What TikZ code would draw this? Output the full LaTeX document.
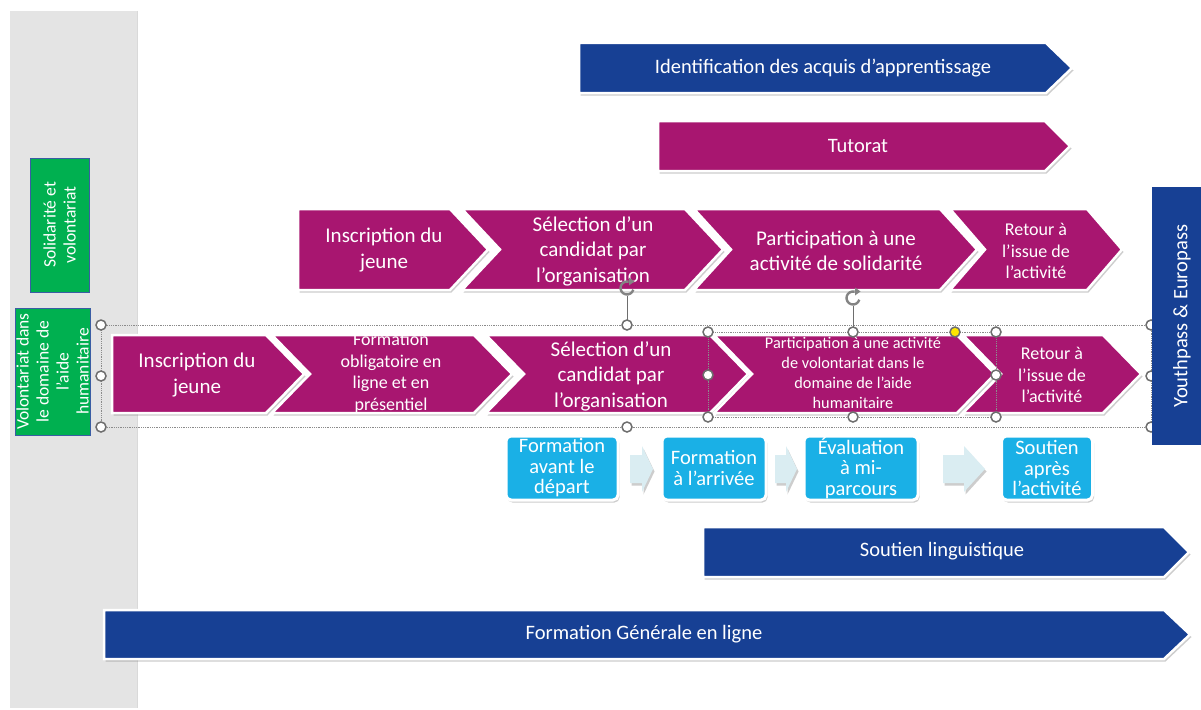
\documentclass[tikz,border=0pt]{standalone}
\usepackage{fontspec}
\setmainfont{Carlito}
\usetikzlibrary{shadows}
\definecolor{berry}{RGB}{168,22,112}
\definecolor{navy}{RGB}{23,64,148}
\definecolor{leaf}{RGB}{0,176,80}
\definecolor{sky}{RGB}{26,176,230}
\definecolor{pale}{RGB}{218,237,242}
\definecolor{panel}{RGB}{228,228,228}
\definecolor{hgray}{RGB}{110,110,110}
\definecolor{hyellow}{RGB}{255,230,0}
\tikzset{
  shad/.style={drop shadow={shadow xshift=1.5pt,shadow yshift=-2.5pt,opacity=.28,fill=black!70}},
  shapeln/.style={draw=white,line width=2.5pt,line join=miter,shad},
  wt/.style={text=white,align=center,inner sep=0pt},
  chevtxt/.style={wt,font=\fontsize{21}{25.5}\selectfont},
  midtxt/.style={wt,font=\fontsize{18}{21.5}\selectfont},
  tinytxt/.style={wt,font=\fontsize{16.3}{20}\selectfont},
  bartxt/.style={wt,font=\fontsize{20.5}{24}\selectfont},
  boxtxt/.style={wt,font=\fontsize{20.5}{20.5}\selectfont},
  greentxt/.style={wt,font=\fontsize{17.5}{20}\selectfont},
  skybox/.style={fill=sky,draw=white,line width=3pt,rounded corners=5pt,shad,inner sep=0pt},
  greenbox/.style={fill=leaf,draw=navy!85,line width=1pt,inner sep=0pt},
  handle/.style={circle,fill=white,draw=hgray,line width=1.5pt,minimum size=10pt,inner sep=0pt},
  selbox/.style={draw=hgray!80,densely dotted,line width=0.8pt},
  rotline/.style={draw=hgray,line width=1pt},
}
% pentagon arrow: fill, left, base, top, bottom, depth
\newcommand\mkpent[6]{%
  \path[fill=#1,shapeln] (#2,#4) -- (#3,#4) -- ({#3+#6},{(#4+#5)/2}) -- (#3,#5) -- (#2,#5) -- cycle;}
% chevron with notch
\newcommand\mkchev[6]{%
  \path[fill=#1,shapeln] (#2,#4) -- (#3,#4) -- ({#3+#6},{(#4+#5)/2}) -- (#3,#5) -- (#2,#5) -- ({#2+#6},{(#4+#5)/2}) -- cycle;}
% rotation icon (circle arrow)
\newcommand\mkrot[2]{%
  \draw[hgray!85,line width=2.4pt] (#1,#2) ++(75:6.5pt) arc[start angle=75,end angle=345,radius=6.5pt];
  \fill[hgray!85] (#1,#2) ++(2pt,10.5pt) -- ++(0,-8pt) -- ++(5.5pt,4pt) -- cycle;}
\begin{document}
\begin{tikzpicture}[x=1pt,y=-1pt]
\useasboundingbox (0,0) rectangle (1201,709);
\clip (0,0) rectangle (1201,709);
\fill[white] (0,0) rectangle (1201,709);
% side panel
\fill[panel] (10,11) rectangle (137,708);
\draw[black!15,line width=1pt] (137,11) -- (137,708);

% top bars
\mkpent{navy}{579}{1046}{43}{93}{26}
\node[bartxt] (ident) at (823,68) {Identification des acquis d’apprentissage};
\mkpent{berry}{658}{1045}{121}{171}{25}
\node[bartxt] (tut) at (858,146) {Tutorat};

% row 1 : solidarity
\mkpent{berry}{298}{450}{209}{290}{38}
\mkchev{berry}{462}{685}{209}{290}{38}
\mkchev{berry}{694}{940}{209}{290}{37}
\mkchev{berry}{950}{1087}{209}{290}{35}
\node[chevtxt] (s1) at (384,250) {Inscription du\\jeune};
\node[chevtxt] (s2) at (593,251) {Sélection d’un\\candidat par\\l’organisation};
\node[chevtxt] (s3) at (836,251) {Participation à une\\activité de solidarité};
\node[midtxt] (s4) at (1036,251) {Retour à\\l’issue de\\l’activité};

% row 2 : humanitarian aid
\mkpent{berry}{112}{266}{335}{413}{38}
\mkchev{berry}{272}{474}{335}{413}{38}
\mkchev{berry}{486}{710}{335}{413}{38}
\mkchev{berry}{714}{957}{335}{413}{38}
\mkchev{berry}{963}{1103}{335}{413}{38}
\node[chevtxt] (h1) at (197,375) {Inscription du\\jeune};
\node[midtxt] (h2) at (391,373) {Formation\\obligatoire en\\ligne et en\\présentiel};
\node[chevtxt] (h3) at (611,376) {Sélection d’un\\candidat par\\l’organisation};
\node[tinytxt] (h4) at (853,373) {Participation à une activité\\de volontariat dans le\\domaine de l’aide\\humanitaire};
\node[midtxt] (h5) at (1052,375) {Retour à\\l’issue de\\l’activité};

% selection frames and handles
\draw[selbox] (101,325) rectangle (1151,427);
\draw[selbox] (708,332) rectangle (996,417);
\draw[rotline] (627,325) -- (627,296);
\draw[rotline] (853,332) -- (853,306);
\mkrot{627}{288}
\mkrot{853}{298}
\foreach \p in {(101,325),(101,376),(101,427),(627,325),(627,427),(1151,325),(1151,376),(1151,427),
  (708,332),(853,332),(996,332),(708,375),(996,375),(708,417),(853,417),(996,417)}
  \node[handle] at \p {};
\node[handle,fill=hyellow] (yh) at (955,332) {};

% training boxes
\node[skybox,minimum width=112pt,minimum height=64pt] (b1) at (562,468) {};
\node[skybox,minimum width=104pt,minimum height=64pt] (b2) at (714,468) {};
\node[skybox,minimum width=114pt,minimum height=64pt] (b3) at (861,468) {};
\node[skybox,minimum width=91pt,minimum height=64pt] (b4) at (1047,468) {};
\node[boxtxt] (t1) at (b1) {Formation\\avant le\\départ};
\node[boxtxt] (t2) at (b2) {Formation\\à l’arrivée};
\node[boxtxt] (t3) at (b3) {Évaluation\\à mi-\\parcours};
\node[boxtxt] (t4) at (b4) {Soutien\\après\\l’activité};
% small block arrows
\path[fill=pale,shad] (630,455) -- (642,455) -- (642,446) -- (653,469) -- (642,492) -- (642,483) -- (630,483) -- cycle;
\path[fill=pale,shad] (775,455) -- (786,455) -- (786,446) -- (797,469) -- (786,492) -- (786,483) -- (775,483) -- cycle;
\path[fill=pale,shad] (943,455) -- (964,455) -- (964,446) -- (985,469) -- (964,492) -- (964,483) -- (943,483) -- cycle;

% bottom bars
\mkpent{navy}{703}{1164}{527}{577}{25}
\node[bartxt] (ling) at (942,551) {Soutien linguistique};
\mkpent{navy}{104}{1164}{610}{659}{26}
\node[bartxt] (gen) at (644,634) {Formation Générale en ligne};

% green labels
\node[greenbox,minimum width=59pt,minimum height=134pt] (g1) at (59.5,225) {};
\node[greentxt,rotate=90] (g1t) at (g1) {Solidarité et\\volontariat};
\node[greenbox,minimum width=75pt,minimum height=127pt] (g2) at (52.5,371.5) {};
\node[greentxt,rotate=90] (g2t) at (g2) {Volontariat dans\\le domaine de\\l’aide\\humanitaire};

% Youthpass
\node[fill=navy,minimum width=63pt,minimum height=258pt,anchor=north west,inner sep=0pt] (yp) at (1152,187) {};
\node[bartxt,rotate=90] (ypt) at (1182,316) {Youthpass \& Europass};
\end{tikzpicture}
\end{document}
